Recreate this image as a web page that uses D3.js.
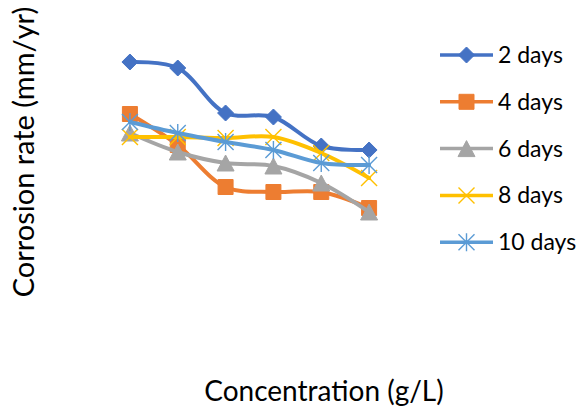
<!DOCTYPE html>
<html>
<head>
<meta charset="utf-8">
<script src="https://cdn.jsdelivr.net/npm/d3@7"></script>
<style>
  html, body { margin: 0; padding: 0; background: #fff; }
  svg { display: block; }
  text { font-family: Lato, "Open Sans", sans-serif; fill: #000; }
</style>
</head>
<body>
<svg id="chart" width="581" height="410"></svg>
<script>
// Concentration levels (category axis, labels hidden)
const concentrations = ["0", "0.2", "0.4", "0.6", "0.8", "1.0"];

// Corrosion rate (mm/yr) per immersion period
const days2  = [2.78, 2.72, 2.27, 2.23, 1.94, 1.90];
const days4  = [2.26, 1.95, 1.53, 1.48, 1.48, 1.32];
const days6  = [2.07, 1.88, 1.77, 1.74, 1.57, 1.28];
const days8  = [2.03, 2.03, 2.02, 2.03, 1.87, 1.62];
const days10 = [2.18, 2.07, 1.98, 1.90, 1.77, 1.75];

const seriesNames = ["2 days", "4 days", "6 days", "8 days", "10 days"];
const seriesValues = [days2, days4, days6, days8, days10];
const seriesColors = ["#4472C4", "#ED7D31", "#A5A5A5", "#FFC000", "#5B9BD5"];
const seriesMarkers = ["diamond", "square", "triangle", "x", "star"];

const svg = d3.select("#chart");

const x = d3.scalePoint().domain(concentrations).range([106, 393]).padding(0.5);
const y = d3.scaleLinear().domain([0, 3]).range([340, 40]);

// Marker path generators, centred on (0,0)
function markerPath(kind) {
  const p = d3.path();
  if (kind === "diamond") {
    const r = 8;
    p.moveTo(0, -r); p.lineTo(r, 0); p.lineTo(0, r); p.lineTo(-r, 0); p.closePath();
  } else if (kind === "square") {
    const h = 7.5;
    p.rect(-h, -h, 2 * h, 2 * h);
  } else if (kind === "triangle") {
    const w = 8.5, h = 8;
    p.moveTo(0, -h); p.lineTo(w, h); p.lineTo(-w, h); p.closePath();
  } else if (kind === "x") {
    const r = 8;
    p.moveTo(-r, -r); p.lineTo(r, r); p.moveTo(r, -r); p.lineTo(-r, r);
  } else if (kind === "star") {
    const r = 8;
    p.moveTo(-r, -r); p.lineTo(r, r); p.moveTo(r, -r); p.lineTo(-r, r);
    p.moveTo(0, -r - 1); p.lineTo(0, r + 1);
  }
  return p.toString();
}

function drawMarker(g, kind, color) {
  const filled = kind === "diamond" || kind === "square" || kind === "triangle";
  g.append("path")
    .attr("d", markerPath(kind))
    .attr("fill", filled ? color : "none")
    .attr("stroke", color)
    .attr("stroke-width", filled ? 1 : 1.4);
}

const line = d3.line()
  .x((d, i) => x(concentrations[i]))
  .y(d => y(d))
  .curve(d3.curveCatmullRom.alpha(0.5));

const plot = svg.append("g");

seriesValues.forEach((vals, s) => {
  const g = plot.append("g");
  g.append("path")
    .datum(vals)
    .attr("d", line)
    .attr("fill", "none")
    .attr("stroke", seriesColors[s])
    .attr("stroke-width", 4)
    .attr("stroke-linejoin", "round")
    .attr("stroke-linecap", "round");
  vals.forEach((v, i) => {
    const m = g.append("g").attr("transform", `translate(${x(concentrations[i])},${y(v)})`);
    drawMarker(m, seriesMarkers[s], seriesColors[s]);
  });
});

// Legend
const legend = svg.append("g");
seriesNames.forEach((name, s) => {
  const ly = 55 + s * 46.8;
  const item = legend.append("g").attr("transform", `translate(0,${ly})`);
  item.append("line")
    .attr("x1", 440).attr("x2", 493).attr("y1", 0).attr("y2", 0)
    .attr("stroke", seriesColors[s]).attr("stroke-width", 3.5);
  const m = item.append("g").attr("transform", "translate(466.5,0)");
  drawMarker(m, seriesMarkers[s], seriesColors[s]);
  item.append("text")
    .attr("x", 498).attr("y", 8)
    .attr("font-size", 23)
    .text(name);
});

// Axis titles
svg.append("text")
  .attr("x", 324).attr("y", 401)
  .attr("text-anchor", "middle")
  .attr("font-size", 28)
  .text("Concentration (g/L)");

svg.append("text")
  .attr("transform", "translate(34,152) rotate(-90)")
  .attr("text-anchor", "middle")
  .attr("font-size", 29)
  .text("Corrosion rate (mm/yr)");
</script>
</body>
</html>
